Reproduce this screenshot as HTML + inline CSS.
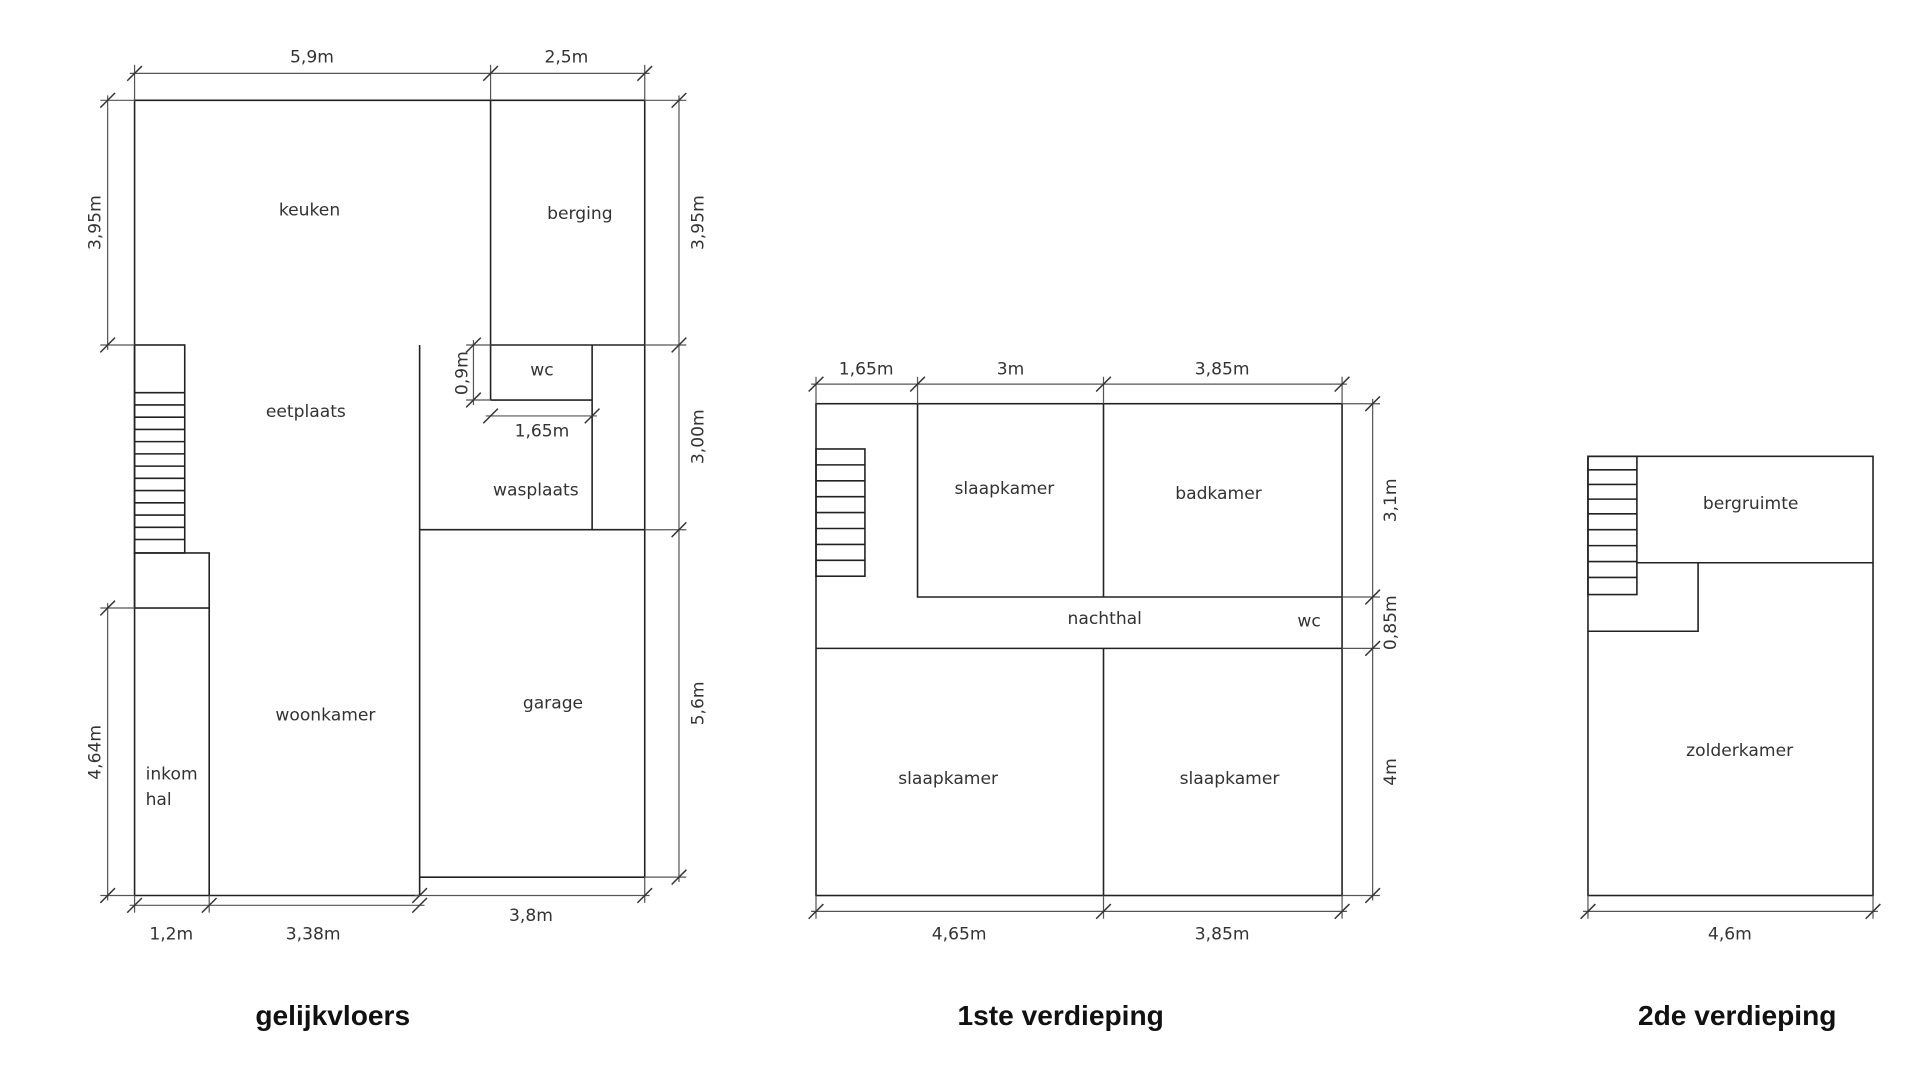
<!DOCTYPE html>
<html><head><meta charset="utf-8"><style>
html,body{margin:0;padding:0;background:#fff;}
svg{display:block}
text{font-family:"DejaVu Sans","Liberation Sans",sans-serif;fill:#333;font-size:14px}
.t{font-family:"Liberation Sans",sans-serif;font-weight:bold;font-size:23px;fill:#111}
.w{stroke:#222;stroke-width:1.3;fill:none}
.d{stroke:#555;stroke-width:1;fill:none}
</style></head><body>
<svg width="1920" height="1080" viewBox="0 0 1569.4 882.8" preserveAspectRatio="none" xmlns="http://www.w3.org/2000/svg">
<defs><path id="tk" d="M-6,6 L6,-6" stroke="#333" stroke-width="1.2"/></defs>
<!-- ===== gelijkvloers ===== -->
<g class="w">
<polyline points="110,732 110,82 527,82 527,717"/>
<line x1="110" y1="732" x2="343" y2="732"/>
<line x1="401" y1="82" x2="401" y2="327"/>
<line x1="401" y1="282" x2="527" y2="282"/>
<line x1="401" y1="327" x2="484" y2="327"/>
<line x1="484" y1="282" x2="484" y2="433"/>
<line x1="343" y1="282" x2="343" y2="732"/>
<line x1="343" y1="433" x2="527" y2="433"/>
<line x1="343" y1="717" x2="527" y2="717"/>
<rect x="110" y="282" width="41" height="170"/>
<rect x="110" y="452" width="61" height="45"/>
<line x1="171" y1="497" x2="171" y2="732"/>
<path d="M110 321H151M110 331H151M110 341H151M110 351H151M110 361H151M110 371H151M110 381H151M110 391H151M110 401H151M110 411H151M110 421H151M110 431H151M110 441H151"/>
</g>
<g class="d">
<line x1="106" y1="60" x2="531" y2="60"/>
<line x1="110" y1="53" x2="110" y2="82"/><line x1="401" y1="53" x2="401" y2="82"/><line x1="527" y1="53" x2="527" y2="82"/>
<line x1="88" y1="78" x2="88" y2="286"/><line x1="88" y1="493" x2="88" y2="736"/>
<line x1="82" y1="82" x2="110" y2="82"/><line x1="82" y1="282" x2="110" y2="282"/><line x1="82" y1="497" x2="110" y2="497"/><line x1="82" y1="732" x2="110" y2="732"/>
<line x1="555" y1="78" x2="555" y2="721"/>
<line x1="527" y1="82" x2="561" y2="82"/><line x1="527" y1="282" x2="561" y2="282"/><line x1="527" y1="433" x2="561" y2="433"/><line x1="527" y1="717" x2="561" y2="717"/>
<line x1="387" y1="278" x2="387" y2="331"/><line x1="381" y1="282" x2="401" y2="282"/><line x1="381" y1="327" x2="401" y2="327"/>
<line x1="397" y1="340" x2="488" y2="340"/>
<line x1="106" y1="740" x2="347" y2="740"/><line x1="110" y1="732" x2="110" y2="746"/><line x1="171" y1="732" x2="171" y2="746"/>
<line x1="339" y1="732" x2="531" y2="732"/><line x1="527" y1="717" x2="527" y2="738"/>
</g>
<g>
<use href="#tk" x="110" y="60"/><use href="#tk" x="401" y="60"/><use href="#tk" x="527" y="60"/>
<use href="#tk" x="88" y="82"/><use href="#tk" x="88" y="282"/><use href="#tk" x="88" y="497"/><use href="#tk" x="88" y="732"/>
<use href="#tk" x="555" y="82"/><use href="#tk" x="555" y="282"/><use href="#tk" x="555" y="433"/><use href="#tk" x="555" y="717"/>
<use href="#tk" x="387" y="282"/><use href="#tk" x="387" y="327"/>
<use href="#tk" x="401" y="340"/><use href="#tk" x="484" y="340"/>
<use href="#tk" x="110" y="740"/><use href="#tk" x="171" y="740"/><use href="#tk" x="343" y="740"/>
<use href="#tk" x="343" y="732"/><use href="#tk" x="527" y="732"/>
</g>
<g text-anchor="middle">
<text x="255" y="51">5,9m</text><text x="463" y="51">2,5m</text>
<text transform="translate(82,182) rotate(-90)">3,95m</text>
<text transform="translate(82,615) rotate(-90)">4,64m</text>
<text transform="translate(575,182) rotate(-90)">3,95m</text>
<text transform="translate(575,357) rotate(-90)">3,00m</text>
<text transform="translate(575,575) rotate(-90)">5,6m</text>
<text transform="translate(382,305) rotate(-90)">0,9m</text>
<text x="443" y="357">1,65m</text>
<text x="140" y="768">1,2m</text><text x="256" y="768">3,38m</text><text x="434" y="753">3,8m</text>
<text x="253" y="176">keuken</text><text x="474" y="179">berging</text>
<text x="250" y="341">eetplaats</text><text x="443" y="307">wc</text>
<text x="438" y="405">wasplaats</text><text x="452" y="579">garage</text>
<text x="266" y="589">woonkamer</text>
</g>
<text x="119" y="637">inkom</text><text x="119" y="658">hal</text>
<!-- ===== 1ste verdieping ===== -->
<g class="w">
<rect x="667" y="330" width="430" height="402"/>
<rect x="667" y="367" width="40" height="104"/>
<path d="M667 380H707M667 393H707M667 406H707M667 419H707M667 432H707M667 445H707M667 458H707"/>
<polyline points="750,330 750,488 1097,488"/>
<line x1="902" y1="330" x2="902" y2="488"/>
<line x1="667" y1="530" x2="1097" y2="530"/>
<line x1="902" y1="530" x2="902" y2="732"/>
</g>
<g class="d">
<line x1="663" y1="314" x2="1101" y2="314"/>
<line x1="667" y1="308" x2="667" y2="330"/><line x1="750" y1="308" x2="750" y2="330"/><line x1="902" y1="308" x2="902" y2="330"/><line x1="1097" y1="308" x2="1097" y2="330"/>
<line x1="1122" y1="326" x2="1122" y2="736"/>
<line x1="1097" y1="330" x2="1128" y2="330"/><line x1="1097" y1="488" x2="1128" y2="488"/><line x1="1097" y1="530" x2="1128" y2="530"/><line x1="1097" y1="732" x2="1128" y2="732"/>
<line x1="663" y1="745" x2="1101" y2="745"/>
<line x1="667" y1="732" x2="667" y2="751"/><line x1="902" y1="732" x2="902" y2="751"/><line x1="1097" y1="732" x2="1097" y2="751"/>
</g>
<g>
<use href="#tk" x="667" y="314"/><use href="#tk" x="750" y="314"/><use href="#tk" x="902" y="314"/><use href="#tk" x="1097" y="314"/>
<use href="#tk" x="1122" y="330"/><use href="#tk" x="1122" y="488"/><use href="#tk" x="1122" y="530"/><use href="#tk" x="1122" y="732"/>
<use href="#tk" x="667" y="745"/><use href="#tk" x="902" y="745"/><use href="#tk" x="1097" y="745"/>
</g>
<g text-anchor="middle">
<text x="708" y="306">1,65m</text><text x="826" y="306">3m</text><text x="999" y="306">3,85m</text>
<text transform="translate(1141,409) rotate(-90)">3,1m</text>
<text transform="translate(1141,509) rotate(-90)">0,85m</text>
<text transform="translate(1141,631) rotate(-90)">4m</text>
<text x="784" y="768">4,65m</text><text x="999" y="768">3,85m</text>
<text x="821" y="404">slaapkamer</text><text x="996" y="408">badkamer</text>
<text x="903" y="510">nachthal</text><text x="1070" y="512">wc</text>
<text x="775" y="641">slaapkamer</text><text x="1005" y="641">slaapkamer</text>
</g>
<!-- ===== 2de verdieping ===== -->
<g class="w">
<rect x="1298" y="373" width="233" height="359"/>
<rect x="1298" y="373" width="40" height="113"/>
<path d="M1298 384H1338M1298 396H1338M1298 408H1338M1298 420H1338M1298 433H1338M1298 446H1338M1298 459H1338M1298 472H1338"/>
<line x1="1338" y1="460" x2="1531" y2="460"/>
<polyline points="1388,460 1388,516 1298,516"/>
</g>
<g class="d">
<line x1="1294" y1="745" x2="1535" y2="745"/>
<line x1="1298" y1="732" x2="1298" y2="751"/><line x1="1531" y1="732" x2="1531" y2="751"/>
</g>
<use href="#tk" x="1298" y="745"/><use href="#tk" x="1531" y="745"/>
<g text-anchor="middle">
<text x="1414" y="768">4,6m</text>
<text x="1431" y="416">bergruimte</text><text x="1422" y="618">zolderkamer</text>
</g>
<!-- titles -->
<g text-anchor="middle">
<text class="t" x="272" y="838">gelijkvloers</text>
<text class="t" x="867" y="838">1ste verdieping</text>
<text class="t" x="1420" y="838">2de verdieping</text>
</g>
</svg>
</body></html>
